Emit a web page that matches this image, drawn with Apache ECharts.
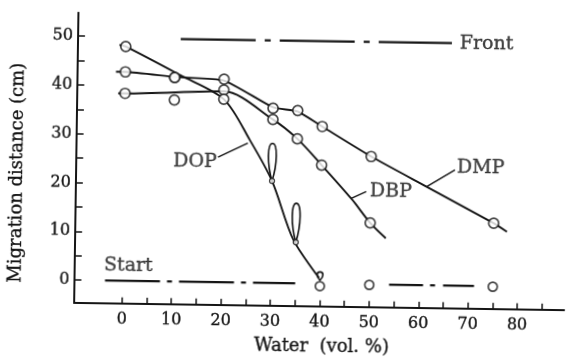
<!DOCTYPE html>
<html>
<head>
<meta charset="utf-8">
<script src="https://cdn.jsdelivr.net/npm/echarts@6/dist/echarts.min.js"></script>
<style>
html,body{margin:0;padding:0;background:#fff;overflow:hidden;}
#c{width:568px;height:358px;background:#fff;transform:rotate(0.85deg);transform-origin:284px 179px;}
</style>
</head>
<body>
<div id="c"></div>
<script>
// ---- data (water vol.% vs migration distance cm) ----
const xTicks = [0,5,10,15,20,25,30,35,40,45,50,55,60,65,70,75,80,85];
const xTickLabels = [0,10,20,30,40,50,60,70,80];
const yTicks = [0,5,10,15,20,25,30,35,40,45,50];
const yTickLabels = [0,10,20,30,40,50];

// spot positions (circles)
const dmpWater = [0, 10, 20, 30, 35, 40, 50, 75];
const dmpDist  = [42.8, 41.8, 41.6, 35.8, 35.4, 32.2, 26.2, 12.9];
const dbpWater = [0, 10, 20, 30, 35, 40, 50];
const dbpDist  = [38.4, 37.2, 39.4, 33.5, 29.6, 24.3, 12.6];
const dopWater = [0, 10, 20];
const dopDist  = [48.0, 41.8, 37.5];
const dopSmallWater = [30, 35];
const dopSmallDist  = [20.9, 8.4];
const unmovedWater = [40, 50, 75];
const unmovedDist  = [-0.5, -0.1, -0.1];
// DOP tailing (bottom, top of tail)
const tailWater  = [30, 35, 40];
const tailBottom = [20.9, 8.4, 0.7];
const tailTop    = [28.6, 16.4, 2.4];

// hand-drawn curves
const dmpCurve = [[-1.9,42.8],[0,42.8],[10,41.9],[20,41.3],[30,36.0],[35,35.2],[40,32.2],[50,26.2],[61.3,20.2],[75,12.9],[77.7,11.2]];
const dbpCurve = [[-1.4,38.4],[0,38.4],[20,39.1],[30,33.5],[35,29.6],[40,24.3],[46.2,17.4],[50,12.6],[53.2,9.5]];
const dopCurve = [[-1.3,48.3],[0,48.0],[11.1,42.3],[20,37.5],[25.4,29.2],[30,20.9],[34.5,8.9],[39.8,1.2]];

// solvent front and start lines
const frontLine = [[11.1,49.7],[66.0,49.7]];
const startLine1 = [[-3.5,0],[35.0,0]];
const startLine2 = [[54.0,0],[71.2,0]];

// annotation texts
const curveNames = ['DOP','DBP','DMP'];
const curveLabelAt = [[14.35,24.7],[54.1,19.05],[72.2,24.1]];
const arrowFrom = [[19.0,25.6],[49.1,19.0],[67.0,23.7]];
const arrowTo   = [[25.0,28.6],[46.2,17.6],[61.3,20.2]];
const lineNames = ['Front','Start'];
const lineLabelAt = [[67.6,49.7],[-3.75,3.1]];

// ---- chart ----
const INK = '#151515';
const FONT = 'DejaVu Serif';
const zip = (a,b) => a.map((v,i)=>[v,b[i]]);
const circleStyle = {color:'#fff', borderColor:INK, borderWidth:1.7};
const textStyle = (size) => ({fontFamily:FONT, fontSize:size, color:INK, textBorderColor:INK, textBorderWidth:0.35});

const chart = echarts.init(document.getElementById('c'), null, {renderer:'canvas'});
chart.setOption({
  animation:false,
  backgroundColor:'#fff',
  grid:{left:75.9, right:2, top:15.7, bottom:52.3, outerBoundsMode:'none', containLabel:false},
  xAxis:{
    type:'value', min:-9.7, max:89.5,
    name:'Water  (vol. %)', nameLocation:'middle', nameGap:32,
    nameTextStyle:Object.assign(textStyle(18), {padding:[0,0,0,6]}),
    axisLine:{show:true, onZero:false, lineStyle:{color:INK, width:2}},
    axisTick:{show:true, inside:true, length:6, customValues:xTicks, lineStyle:{color:INK, width:1.5}},
    axisLabel:Object.assign(textStyle(16), {customValues:xTickLabels, margin:8}),
    splitLine:{show:false}
  },
  yAxis:{
    type:'value', min:-4.63, max:54.8,
    name:'Migration distance (cm)', nameLocation:'middle', nameGap:50, nameRotate:90,
    nameTextStyle:Object.assign(textStyle(18), {padding:[0,32,0,0]}),
    axisLine:{show:true, onZero:false, lineStyle:{color:INK, width:2}},
    axisTick:{show:true, inside:true, length:7, customValues:yTicks, lineStyle:{color:INK, width:1.5}},
    axisLabel:Object.assign(textStyle(16), {customValues:yTickLabels, margin:5}),
    splitLine:{show:false}
  },
  series:[
    {name:'DMP curve', type:'line', data:dmpCurve, smooth:0.18, showSymbol:false, symbol:'none', lineStyle:{color:INK, width:1.9}, z:2, silent:true},
    {name:'DBP curve', type:'line', data:dbpCurve, smooth:0.3, showSymbol:false, symbol:'none', lineStyle:{color:INK, width:1.9}, z:2, silent:true},
    {name:'DOP curve', type:'line', data:dopCurve, smooth:0.3, showSymbol:false, symbol:'none', lineStyle:{color:INK, width:1.9}, z:2, silent:true},
    {name:'Front', type:'line', data:frontLine, symbol:'none', lineStyle:{color:INK, width:2.2, type:[75,9,6,9]}, z:2, silent:true},
    {name:'Start1', type:'line', data:startLine1, symbol:'none', lineStyle:{color:INK, width:2.2, type:[55,7,5,7]}, z:2, silent:true},
    {name:'Start2', type:'line', data:startLine2, symbol:'none', lineStyle:{color:INK, width:2.2, type:[34,7,5,8]}, z:2, silent:true},
    {name:'tails', type:'custom', data:tailWater.map((w,i)=>[w,tailBottom[i],tailTop[i]]), z:3, silent:true,
      renderItem:(params, api)=>{
        const b = api.coord([api.value(0), api.value(1)]);
        const t = api.coord([api.value(0), api.value(2)]);
        const h = b[1]-t[1];
        const r = Math.min(3.6, h*0.32)*1.45;
        const d = `M${b[0]},${b[1]} C${b[0]-r},${b[1]-h*0.45} ${b[0]-r},${t[1]} ${b[0]},${t[1]} C${b[0]+r},${t[1]} ${b[0]+r},${b[1]-h*0.45} ${b[0]},${b[1]} Z`;
        return {type:'path', shape:{pathData:d}, style:{fill:'none', stroke:INK, lineWidth:1.6}};
      }},
    {name:'DMP', type:'scatter', data:zip(dmpWater,dmpDist), symbol:'circle', symbolSize:10, itemStyle:circleStyle, z:4, silent:true},
    {name:'DBP', type:'scatter', data:zip(dbpWater,dbpDist), symbol:'circle', symbolSize:10, itemStyle:circleStyle, z:4, silent:true},
    {name:'DOP', type:'scatter', data:zip(dopWater,dopDist), symbol:'circle', symbolSize:10, itemStyle:circleStyle, z:4, silent:true},
    {name:'DOP small', type:'scatter', data:zip(dopSmallWater,dopSmallDist), symbol:'circle', symbolSize:5, itemStyle:{color:'#fff', borderColor:INK, borderWidth:1.3}, z:4, silent:true},
    {name:'Unmoved', type:'scatter', data:zip(unmovedWater,unmovedDist), symbol:'circle', symbolSize:9, itemStyle:circleStyle, z:4, silent:true},
    {name:'curve labels', type:'scatter', data:curveLabelAt.map((p,i)=>[p[0],p[1],curveNames[i]]),
      symbol:'circle', symbolSize:0, itemStyle:{color:'rgba(0,0,0,0)'}, z:5, silent:true,
      label:Object.assign(textStyle(19), {show:true, position:'inside', formatter:p=>p.value[2]}),
      markLine:{silent:true, symbol:['none','arrow'], symbolSize:[0,9], label:{show:false},
        lineStyle:{color:INK, width:1.4, type:'solid'},
        emphasis:{disabled:true},
        data:arrowFrom.map((f,i)=>[{coord:f},{coord:arrowTo[i]}])}},
    {name:'line labels', type:'scatter', data:lineLabelAt.map((p,i)=>[p[0],p[1],lineNames[i]]),
      symbol:'circle', symbolSize:0, itemStyle:{color:'rgba(0,0,0,0)'}, z:5, silent:true,
      label:Object.assign(textStyle(19), {show:true, position:'right', distance:0, formatter:p=>p.value[2]})}
  ]
});
</script>
</body>
</html>
